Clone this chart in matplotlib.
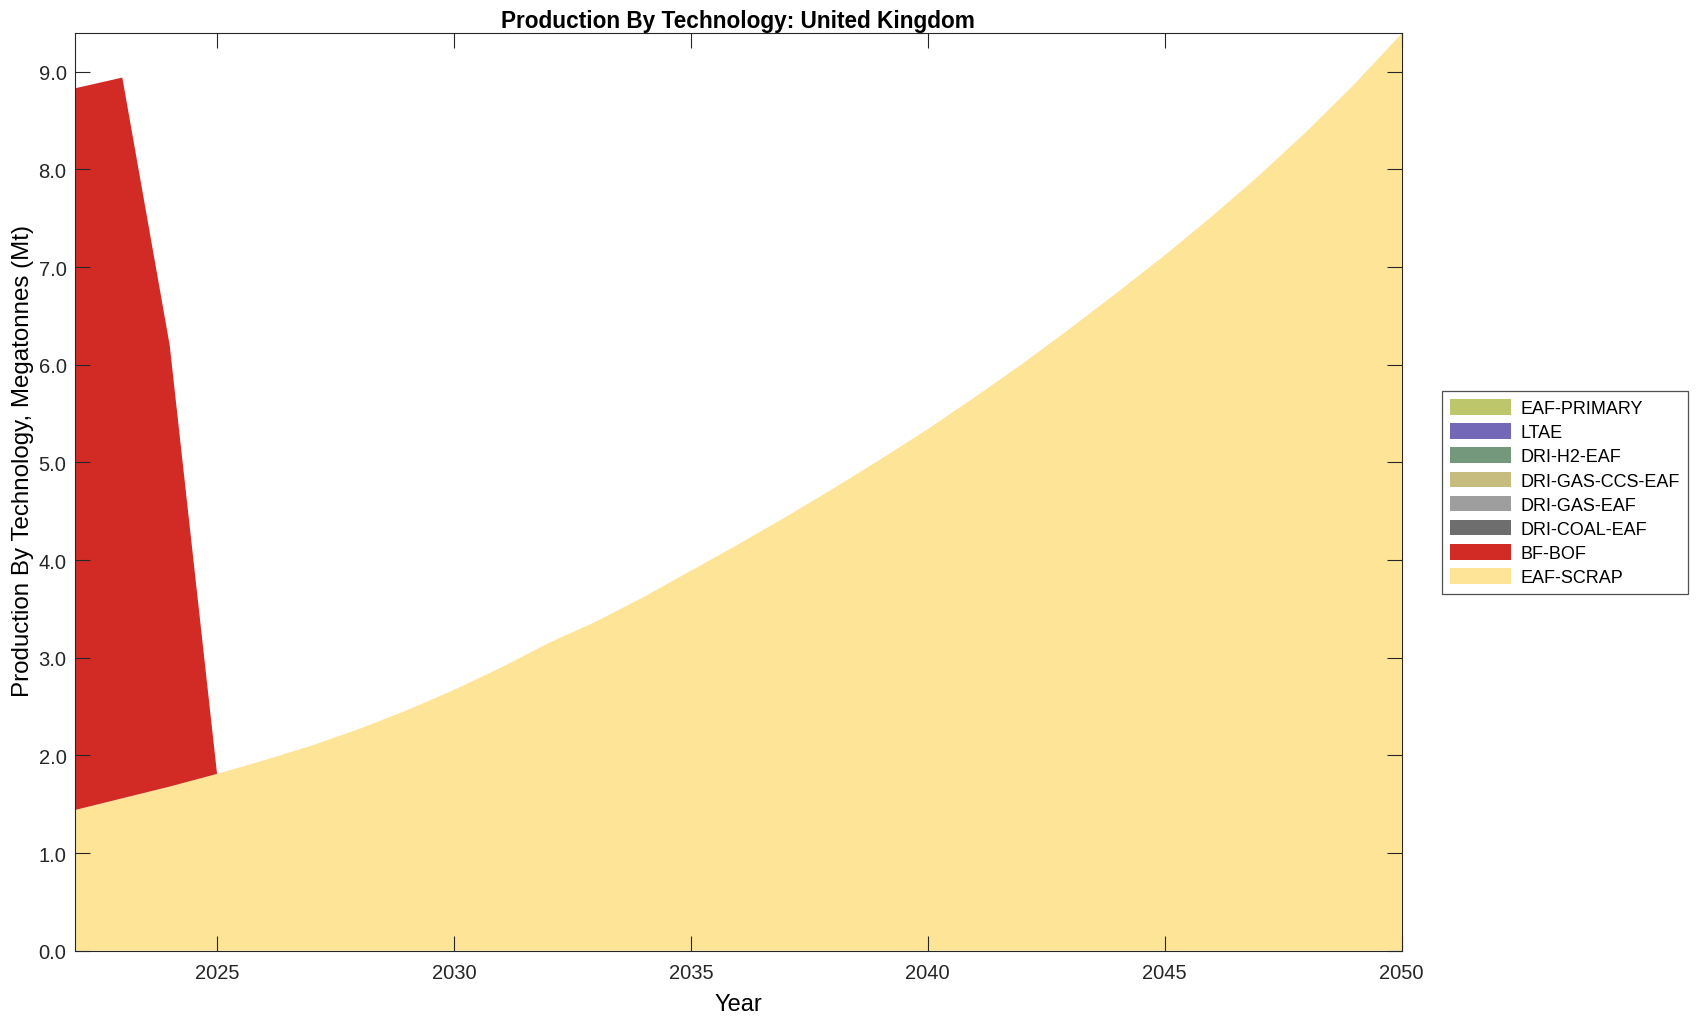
import matplotlib.pyplot as plt
from matplotlib.patches import Patch

plt.rcParams['font.family'] = ['Liberation Sans', 'DejaVu Sans']

years = list(range(2022, 2051))

eaf_scrap = [1.44, 1.56, 1.68, 1.81, 1.95, 2.10, 2.27, 2.46, 2.67, 2.90,
             3.15, 3.37, 3.62, 3.89, 4.16, 4.44, 4.73, 5.03, 5.34, 5.67,
             6.01, 6.37, 6.74, 7.12, 7.52, 7.94, 8.39, 8.87, 9.39]
bf_bof = [7.39, 7.38, 4.52] + [0.0] * 26
zeros = [0.0] * len(years)

# stacking order, bottom to top
techs = ['EAF-SCRAP', 'BF-BOF', 'DRI-COAL-EAF', 'DRI-GAS-EAF',
         'DRI-GAS-CCS-EAF', 'DRI-H2-EAF', 'LTAE', 'EAF-PRIMARY']
series = [eaf_scrap, bf_bof, zeros, zeros, zeros, zeros, zeros, zeros]
colors = ['#fee496', '#d22b26', '#6e6e6e', '#9e9e9e',
          '#c6bc7e', '#73987b', '#7367b8', '#bdc66a']

fig = plt.figure(figsize=(17.03, 10.2), dpi=100)
ax = fig.add_axes([0.044, 0.067, 0.779, 0.900])

ax.stackplot(years, *series, colors=colors, linewidth=0)

ax.set_xlim(2022, 2050)
ax.set_ylim(0, 9.40)
ax.set_xticks([2025, 2030, 2035, 2040, 2045, 2050])
ax.set_yticks([i * 1.0 for i in range(10)])
ax.set_yticklabels([f"{i:.1f}" for i in range(10)])
ax.tick_params(direction='in', length=10.5, width=0.8, top=True, right=True,
               labelsize=14.5, colors='#262626')
ax.tick_params(axis='x', pad=9)
ax.tick_params(axis='y', pad=6)
for s in ax.spines.values():
    s.set_color('#262626')
    s.set_linewidth(0.8)

ax.set_title("Production By Technology: United Kingdom", fontsize=16.3,
             fontweight='bold', pad=4)
ax.set_xlabel("Year", fontsize=17, labelpad=8)
ax.set_ylabel("Production By Technology, Megatonnes (Mt)", fontsize=17.4)
ax.yaxis.set_label_coords(-0.031, 0.535)

handles = [Patch(facecolor=c, edgecolor='none', label=t)
           for t, c in zip(techs, colors)][::-1]
leg = fig.legend(handles=handles, loc='center left',
                 bbox_to_anchor=(0.8467, 0.516), fontsize=13,
                 handlelength=3.4, handleheight=0.95, labelspacing=0.34,
                 fancybox=False, edgecolor='#262626', borderpad=0.45,
                 handletextpad=0.5, borderaxespad=0)
leg.get_frame().set_linewidth(0.9)

fig.savefig("out.png", dpi=100)
